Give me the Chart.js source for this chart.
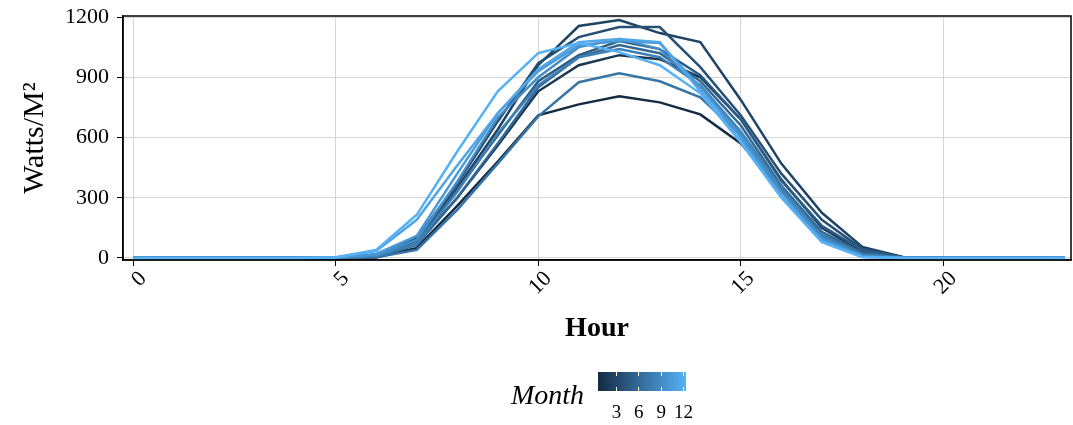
<!DOCTYPE html>
<html>
<head>
<meta charset="utf-8">
<script src="https://cdn.jsdelivr.net/npm/chart.js@4.4.1/dist/chart.umd.min.js"></script>
<style>
  body { margin: 0; background: #fff; font-family: "Liberation Serif", serif; }
  #wrap { position: relative; width: 1073px; height: 425px; }
  #legend { position: absolute; left: 0; top: 0; width: 1073px; height: 425px; pointer-events: none; }
  .lg-title { position: absolute; left: 511px; top: 379px; font-size: 28px; font-style: italic; }
  .lg-bar { position: absolute; left: 598px; top: 372px; width: 88px; height: 19px; }
  .lg-tick { position: absolute; width: 1px; height: 4px; background: #fff; }
  .lg-lab { position: absolute; top: 401px; font-size: 19px; transform: translateX(-50%); }
</style>
</head>
<body>
<div id="wrap">
  <canvas id="chart" width="1073" height="350"></canvas>
  <div id="legend"></div>
</div>
<script>
const hours = [0,1,2,3,4,5,6,7,8,9,10,11,12,13,14,15,16,17,18,19,20,21,22,23];
const jan = [0,0,0,0,0,0,2,50,260,480,710,765,805,775,715,570,340,110,15,0,0,0,0,0];
const feb = [0,0,0,0,0,1,5,70,300,560,830,960,1010,990,900,690,390,150,30,2,0,0,0,0];
const mar = [0,0,0,0,0,1,6,90,350,640,960,1155,1185,1120,1075,787,470,225,55,5,0,0,0,0];
const apr = [0,0,0,0,0,1,8,100,370,680,970,1100,1150,1150,950,710,420,190,45,4,0,0,0,0];
const may = [0,0,0,0,0,1,8,85,340,610,880,1010,1080,1040,910,690,385,160,40,3,0,0,0,0];
const jun = [0,0,0,0,0,1,6,65,300,570,850,1000,1060,1020,880,660,360,130,25,2,0,0,0,0];
const jul = [0,0,0,0,0,0,4,40,240,470,705,875,920,880,800,610,340,115,20,1,0,0,0,0];
const aug = [0,0,0,0,0,1,10,70,330,620,860,1000,1040,1000,860,630,350,110,15,1,0,0,0,0];
const sep = [0,0,0,0,0,1,14,90,380,700,900,1050,1090,1040,850,620,330,100,10,0,0,0,0,0];
const oct = [0,0,0,0,0,2,20,110,420,720,930,1060,1080,1070,850,600,310,90,8,0,0,0,0,0];
const nov = [0,0,0,0,0,3,35,190,460,720,940,1075,1090,1075,830,580,305,80,5,0,0,0,0,0];
const dec = [0,0,0,0,0,4,40,215,530,830,1020,1070,1025,960,820,575,300,80,5,0,0,0,0,0];
const monthSeries = [jan, feb, mar, apr, may, jun, jul, aug, sep, oct, nov, dec];
const yTicks = [0, 300, 600, 900, 1200];
const xTicks = [0, 5, 10, 15, 20];
const legendTicks = [3, 6, 9, 12];

const lowCol = [19, 43, 67], highCol = [86, 177, 247];
function monthColor(m) {
  const t = (m - 1) / 11;
  const c = lowCol.map((v, i) => Math.round(v + (highCol[i] - v) * t));
  return `rgb(${c[0]},${c[1]},${c[2]})`;
}

// later months drawn on top, like the original
const datasets = monthSeries.map((vals, i) => ({
  label: String(i + 1),
  data: hours.map((h, j) => ({ x: h, y: vals[j] })),
  borderColor: monthColor(i + 1),
  borderWidth: 2.5,
  pointRadius: 0,
  tension: 0,
  fill: false,
  order: monthSeries.length - i
}));

const panelBorder = {
  id: 'panelBorder',
  afterDraw(chart) {
    const { ctx, chartArea: a } = chart;
    ctx.save();
    ctx.strokeStyle = '#000';
    ctx.lineWidth = 1.5;
    ctx.strokeRect(a.left, a.top, a.right - a.left, a.bottom - a.top);
    ctx.restore();
  }
};

const font = { family: "'Liberation Serif', serif" };

new Chart(document.getElementById('chart'), {
  type: 'line',
  data: { datasets },
  options: {
    responsive: false,
    animation: false,
    layout: { padding: { left: 13, right: 2, top: 16, bottom: 0 } },
    plugins: { legend: { display: false }, tooltip: { enabled: false } },
    scales: {
      x: {
        type: 'linear',
        min: -0.25,
        max: 23.15,
        afterBuildTicks: s => { s.ticks = xTicks.map(v => ({ value: v })); },
        afterFit: s => { s.height = 90; s.paddingLeft = 0; s.paddingRight = 0; },
        grid: { color: '#d6d6d6', lineWidth: 1, tickColor: '#000', tickLength: 6 },
        border: { color: '#000', width: 1.5 },
        ticks: { color: '#000', font: { ...font, size: 22 }, minRotation: 45, maxRotation: 45, padding: 0, labelOffset: 10 },
        title: { display: true, text: 'Hour', color: '#000', font: { ...font, size: 28, weight: 'bold' }, padding: { top: 0, bottom: 4 } }
      },
      y: {
        min: -10,
        max: 1205,
        afterBuildTicks: s => { s.ticks = yTicks.map(v => ({ value: v })); },
        afterFit: s => { s.width = 110; s.paddingTop = 0; s.paddingBottom = 0; },
        grid: { color: '#d6d6d6', lineWidth: 1, tickColor: '#000', tickLength: 6 },
        border: { color: '#000', width: 1.5 },
        ticks: { color: '#000', font: { ...font, size: 22 }, padding: 8, callback: v => String(v) },
        title: { display: true, text: 'Watts/M²', color: '#000', font: { ...font, size: 30 }, padding: { top: 4, bottom: 4 } }
      }
    }
  },
  plugins: [panelBorder]
});

// colour bar legend
const lg = document.getElementById('legend');
const mLo = 1, mHi = 12;
const pos = m => 601 + (m - mLo) * (683 - 601) / (mHi - mLo);
lg.innerHTML = `<div class="lg-title">Month</div>
  <div class="lg-bar" style="background: linear-gradient(to right, ${monthColor(1)}, ${monthColor(12)})"></div>`;
legendTicks.forEach(m => {
  const x = pos(m);
  lg.innerHTML += `<div class="lg-tick" style="left:${x}px;top:372px"></div>
    <div class="lg-tick" style="left:${x}px;top:387px"></div>
    <div class="lg-lab" style="left:${x + 0.5}px">${m}</div>`;
});
</script>
</body>
</html>
